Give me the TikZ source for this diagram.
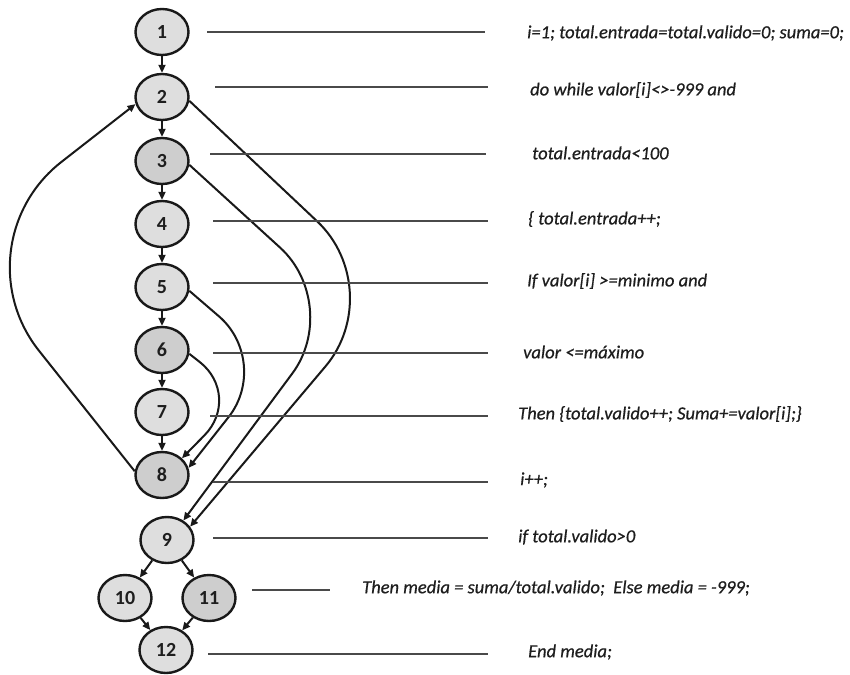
\documentclass[tikz,border=0pt]{standalone}
\usepackage{fontspec}
\setmainfont{Carlito}
\newfontfamily\codefont{Carlito}[FakeBold=0.6]
\usetikzlibrary{shapes.geometric,arrows.meta}
\definecolor{nodefill}{HTML}{DEDEDE}
\definecolor{nodefilldark}{HTML}{CECECE}
\definecolor{txt}{HTML}{1E1E1E}
\definecolor{rulecol}{HTML}{4A4A4A}
\begin{document}
\begin{tikzpicture}[x=1pt,y=-1pt,
  vnode/.style={ellipse, draw=black!90, line width=2.4pt, fill=nodefill,
    minimum width=53pt, minimum height=46pt, inner sep=0pt,
    font=\fontsize{20}{20}\selectfont\bfseries, text=txt},
  dnode/.style={vnode, fill=nodefilldark},
  arr/.style={-{Triangle[length=8pt,width=7pt]}, line width=2pt, draw=black!90},
  code/.style={anchor=west, font=\fontsize{18.5}{18.5}\codefont\itshape, text=txt, inner sep=0pt},
  rulel/.style={draw=rulecol, line width=1.6pt}]
\useasboundingbox (0,0) rectangle (850,674);
\fill[white] (0,0) rectangle (850,674);
% nodes
\node[vnode] (n1) at (162,32) {1};
\node[vnode] (n2) at (162,97) {2};
\node[dnode] (n3) at (162,161) {3};
\node[vnode] (n4) at (162,224) {4};
\node[vnode] (n5) at (162,287) {5};
\node[dnode] (n6) at (162,350) {6};
\node[vnode] (n7) at (162,412) {7};
\node[dnode] (n8) at (162,475) {8};
\node[vnode] (n9) at (167,540) {9};
\node[vnode] (n10) at (125,598) {10};
\node[dnode] (n11) at (209,598) {11};
\node[vnode] (n12) at (166,650) {12};
% straight arrows
\draw[arr] (n1) -- (n2);
\draw[arr] (n2) -- (n3);
\draw[arr] (n3) -- (n4);
\draw[arr] (n4) -- (n5);
\draw[arr] (n5) -- (n6);
\draw[arr] (n6) -- (n7);
\draw[arr] (n7) -- (n8);
\draw[arr] (n9) -- (n10);
\draw[arr] (n9) -- (n11);
\draw[arr] (n10) -- (n12);
\draw[arr] (n11) -- (n12);
% curved arrows
\coordinate (cL) at (-45,245);
\coordinate (cA) at (390,290);
\coordinate (cB) at (343,305);
\coordinate (cC) at (272,362);
\coordinate (cD) at (243,396);
\draw[arr, rounded corners=135pt] (n8.172) -- (cL) -- (n2.195);
\draw[arr, rounded corners=100pt] (n2.-8) -- (cA) -- (n9.30);
\draw[arr, rounded corners=85pt] (n3.-8) -- (cB) -- (n9.50);
\draw[arr, rounded corners=70pt] (n5.-8) -- (cC) -- (n8.15);
\draw[arr, rounded corners=55pt] (n6.-8) -- (cD) -- (n8.40);
% leader rules
\draw[rulel] (207,32) -- (485,32);
\draw[rulel] (215,87) -- (488,87);
\draw[rulel] (210,154) -- (486,154);
\draw[rulel] (213,221) -- (488,221);
\draw[rulel] (213,283) -- (488,283);
\draw[rulel] (213,353) -- (488,353);
\draw[rulel] (210,416) -- (488,416);
\draw[rulel] (213,482) -- (488,482);
\draw[rulel] (213,538) -- (488,538);
\draw[rulel] (252,590) -- (330,590);
\draw[rulel] (208,654) -- (488,654);
% code texts
\node[code] (t1) at (527,33) {i=1; total.entrada=total.valido=0; suma=0;};
\node[code] (t2) at (530,90) {do while valor[i]<>-999 and};
\node[code] (t3) at (532,153) {total.entrada<100};
\node[code] (t4) at (528,219) {\{ total.entrada++;};
\node[code] (t5) at (527,281) {If valor[i] >=minimo and};
\node[code] (t6) at (523,352) {valor <=máximo};
\node[code] (t7) at (518,414) {Then \{total.valido++; Suma+=valor[i];\}};
\node[code] (t8) at (520,480) {i++;};
\node[code] (t9) at (518,537) {if total.valido>0};
\node[code] (t10) at (362,588) {Then media = suma/total.valido;\ \ Else media = -999;};
\node[code] (t12) at (528,652) {End media;};
\end{tikzpicture}
\end{document}
